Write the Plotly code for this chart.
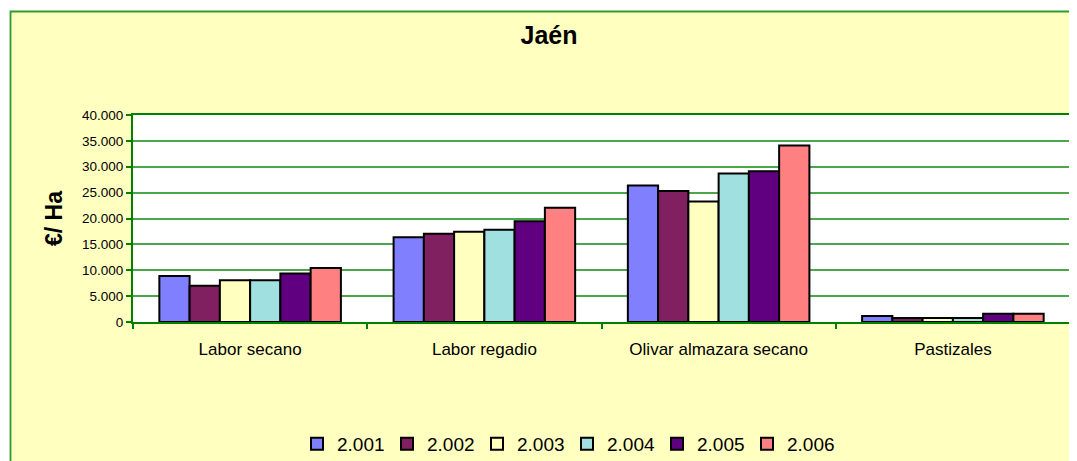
import plotly.graph_objects as go

categories = ["Labor secano", "Labor regadio", "Olivar almazara secano", "Pastizales"]
years = ["2.001", "2.002", "2.003", "2.004", "2.005", "2.006"]
v2001 = [8900, 16400, 26400, 1150]
v2002 = [7000, 17050, 25300, 780]
v2003 = [8080, 17450, 23300, 780]
v2004 = [8080, 17850, 28700, 780]
v2005 = [9350, 19450, 29150, 1600]
v2006 = [10450, 22100, 34100, 1600]
series = [v2001, v2002, v2003, v2004, v2005, v2006]
colors = ["#8080FF", "#802060", "#FFFFC0", "#A0E0E0", "#600080", "#FF8080"]

OFF = 8  # page body margin
W, H = 1077 - OFF, 461 - OFF
L, R, T, B = 133 - OFF, 7, 115 - OFF, 139
pw, ph = W - L - R, H - T - B

def px(x):
    return (x - OFF - L) / pw

def py(y):
    return (H - B - (y - OFF)) / ph

FONT = "Arial, Liberation Sans, sans-serif"

fig = go.Figure()
for name, vals, col in zip(years, series, colors):
    fig.add_trace(go.Bar(
        x=categories, y=vals, name=name,
        marker=dict(color=col, line=dict(color="#000000", width=2)),
    ))

shapes = [
    dict(type="rect", xref="paper", yref="paper", x0=px(-5), x1=px(1090), y0=py(11), y1=py(-5),
         fillcolor="white", line=dict(width=0), layer="above"),
    dict(type="rect", xref="paper", yref="paper", x0=px(-5), x1=px(10), y0=py(470), y1=py(-5),
         fillcolor="white", line=dict(width=0), layer="above"),
    dict(type="rect", xref="paper", yref="paper", x0=px(10.5), x1=px(1090), y0=py(475), y1=py(11.5),
         fillcolor="rgba(0,0,0,0)", line=dict(color="#2E9A2E", width=1.8), layer="above"),
]

fig.update_layout(
    width=W, height=H,
    margin=dict(l=L, r=R, t=T, b=B, autoexpand=False),
    paper_bgcolor="#FFFFC0",
    plot_bgcolor="#FFFFFF",
    separators=",.",
    barmode="group",
    bargap=0.225,
    bargroupgap=0,
    font=dict(family=FONT, color="#000000"),
    title=dict(text="<b>Jaén</b>", x=(549 - OFF) / W, xref="container", xanchor="center",
               y=1 - (35 - OFF) / H, yref="container", yanchor="middle",
               font=dict(family=FONT, size=25, color="#000000")),
    showlegend=True,
    legend=dict(orientation="h", x=px(567), xanchor="center", y=py(444), yanchor="middle",
                font=dict(family=FONT, size=19, color="#000000"),
                bgcolor="rgba(0,0,0,0)", itemwidth=30, traceorder="normal",
                entrywidth=45, entrywidthmode="pixels"),
    shapes=shapes,
    xaxis=dict(
        type="category", tickson="boundaries", ticks="outside", ticklen=5, tickcolor="#008000",
        tickwidth=1.5, showline=True, linecolor="#008000", linewidth=2, mirror=True,
        showgrid=False, tickfont=dict(family=FONT, size=17, color="#000000"),
        ticklabelstandoff=11,
    ),
    yaxis=dict(
        range=[0, 40000], dtick=5000, tickformat=",d", ticks="outside", ticklen=5,
        tickcolor="#008000", tickwidth=1.5, showline=True, linecolor="#008000", linewidth=2,
        mirror=True, showgrid=True, gridcolor="#4CA64C", gridwidth=1.5, zeroline=False,
        tickfont=dict(family=FONT, size=13.5, color="#000000"),
        title=dict(text="<b>€/ Ha</b>", font=dict(family=FONT, size=23, color="#000000"), standoff=13),
    ),
)

fig.write_html("out.html")
